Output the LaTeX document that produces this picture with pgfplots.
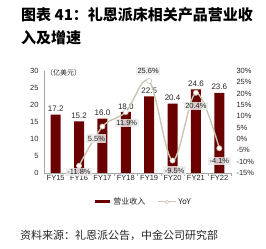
\documentclass[border=0pt]{standalone}
\usepackage{fontspec}
\setmainfont{Liberation Sans}
\newfontfamily\cjk{Noto Sans CJK SC}
\usepackage{pgfplots}
\usepackage{pgfplotstable}
\pgfplotsset{compat=1.18}

\definecolor{barred}{HTML}{6B0000}
\definecolor{linegray}{HTML}{C9C5B0}
\definecolor{boxgray}{HTML}{EBEBEB}
\definecolor{axgray}{HTML}{A6A6A6}
\definecolor{txt}{HTML}{262626}

\pgfplotstableread{
x rev
0 17.2
1 15.2
2 16.0
3 18.0
4 22.5
5 20.4
6 24.6
7 23.6
}\revtable

\pgfplotstableread{
x yoy dx dy
1 -11.8 0 -6
2 5.5 -6 -12
3 11.9 1 -11
4 25.6 -1 10
5 -9.5 2 -10
6 20.4 0 -13
7 -4.1 0 -13
}\yoytable

\begin{document}
\begin{tikzpicture}
\useasboundingbox (0pt,0pt) rectangle (266pt,249pt);
\node[anchor=west,inner sep=0pt,font=\cjk\bfseries\fontsize{15}{18}\selectfont] at (21pt,234pt) {图表 41：礼恩派床相关产品营业收};
\node[anchor=west,inner sep=0pt,font=\cjk\bfseries\fontsize{15}{18}\selectfont] at (21pt,211pt) {入及增速};
\node[anchor=west,inner sep=0pt,font=\cjk\fontsize{11}{13}\selectfont,text=txt] at (20pt,14pt) {资料来源：礼恩派公告，中金公司研究部};

\begin{axis}[
  at={(44pt,76pt)}, anchor=south west, scale only axis,
  width=187pt, height=102pt,
  xmin=-0.5, xmax=7.5, ymin=0, ymax=30,
  axis x line*=bottom, axis y line*=left,
  axis line style={-,draw=axgray},
  xtick={0,...,7},
  xticklabels={FY15,FY16,FY17,FY18,FY19,FY20,FY21,FY22},
  minor xtick={0.5,1.5,...,7.5},
  ytick={0,5,...,30},
  major tick length=0pt, minor tick length=3pt,
  tick align=outside,
  minor tick style={draw=axgray},
  ticklabel style={font=\fontsize{7.5}{9}\selectfont, text=txt},
  /pgf/number format/assume math mode=true,
  xticklabel style={yshift=1pt},
  yticklabel style={xshift=-2pt},
  clip=false,
]
\addplot[ybar, fill=barred, draw=none, bar width=10pt,
  nodes near coords={\pgfmathprintnumber[fixed,fixed zerofill,precision=1]{\pgfplotspointmeta}},
  nodes near coords style={font=\fontsize{8}{9}\selectfont, text=txt, inner sep=2.5pt}]
  table[x=x,y=rev]{\revtable};
\node[anchor=west,inner sep=0pt,font=\cjk\fontsize{7}{8}\selectfont,text=txt] at (rel axis cs:0.01,0.98) {（亿美元）};
\end{axis}

\begin{axis}[
  at={(44pt,76pt)}, anchor=south west, scale only axis,
  width=187pt, height=102pt,
  xmin=-0.5, xmax=7.5, ymin=-15, ymax=30,
  axis x line=none, axis y line*=right,
  y axis line style={draw=none},
  ytick={-15,-10,...,30},
  yticklabel={\pgfmathprintnumber{\tick}\%},
  major tick length=0pt,
  ticklabel style={font=\fontsize{7.5}{9}\selectfont, text=txt},
  /pgf/number format/assume math mode=true,
  yticklabel style={xshift=2pt},
  clip=false,
  legend style={at={(0.53,-0.284)}, anchor=center, draw=none, fill=none,
    legend columns=2, font=\cjk\fontsize{8}{9}\selectfont, text=txt,
    /tikz/every even column/.append style={column sep=10pt},
    inner sep=0pt},
]
\addlegendimage{legend image code/.code={\draw[line width=3pt,barred] (0pt,0pt) -- (15pt,0pt);}}
\addlegendentry{营业收入}
\addplot[smooth, tension=0.55, color=linegray, line width=1.4pt,
  mark=*, mark size=2.6pt, mark options={fill=white, draw=linegray, line width=0.6pt},
  visualization depends on={\thisrow{dx}\as\dx},
  visualization depends on={\thisrow{dy}\as\dy},
  nodes near coords={\pgfmathprintnumber[fixed,fixed zerofill,precision=1]{\pgfplotspointmeta}\%},
  nodes near coords style={anchor=center, xshift=\dx pt, yshift=\dy pt, fill=boxgray, fill opacity=0.85, text opacity=1, inner sep=1.5pt,
    font=\fontsize{7.5}{9}\selectfont, text=txt},
  legend image code/.code={\draw[line width=1pt,linegray] (0pt,0pt) -- (18pt,0pt);
     \draw[fill=white,draw=linegray,line width=0.5pt] (9pt,0pt) circle (1.8pt);}
  ]
  table[x=x,y=yoy]{\yoytable};
\addlegendentry{YoY}
\end{axis}
\end{tikzpicture}
\end{document}
